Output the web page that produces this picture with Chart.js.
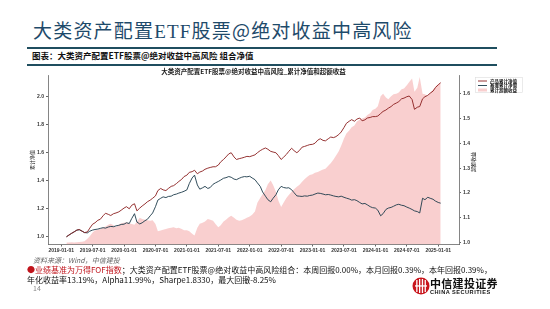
<!DOCTYPE html>
<html>
<head>
<meta charset="utf-8">
<script src="https://cdn.jsdelivr.net/npm/chart.js@4.4.0/dist/chart.umd.min.js"></script>
<style>
body { margin:0; width:550px; height:309px; overflow:hidden; background:#fff; position:relative; font-family:"Noto Sans CJK SC", sans-serif; }
.abs { position:absolute; white-space:nowrap; }
.rule { position:absolute; left:27px; width:470px; height:2px; background:#1f4e5f; }
#title { left:33px; top:18px; font-size:19px; line-height:24px; color:#1e4a6a; letter-spacing:1.2px; }
#title .en { font-family:"Liberation Serif", serif; }
#sub { left:32px; top:49px; font-size:8.5px; line-height:12px; font-weight:bold; color:#111; }
#wrap { position:absolute; left:0; top:60px; width:550px; height:200px; }
#src { left:33px; top:255px; font-size:7px; line-height:10px; color:#666; font-style:italic; }
#note1 { left:27px; top:265px; font-size:8px; line-height:10px; color:#111; }
#note2 { left:27px; top:275px; font-size:8px; line-height:10px; color:#111; }
#note1 .red { color:#c0141c; }
#page { left:33px; top:283px; font-size:7px; line-height:10px; color:#888; }
#logo { left:412px; top:277px; }
#brand { left:430px; top:277px; font-size:11px; line-height:13px; font-weight:bold; color:#111; letter-spacing:0.3px; }
#brand2 { left:430px; top:289px; font-size:5.6px; line-height:7px; font-weight:bold; color:#111; letter-spacing:0.5px; font-family:"Liberation Sans", sans-serif; }
</style>
</head>
<body>
<div id="title" class="abs">大类资产配置<span class="en">ETF</span>股票@绝对收益中高风险</div>
<div class="rule" style="top:47px"></div>
<div id="sub" class="abs">图表：大类资产配置ETF股票@绝对收益中高风险 组合净值</div>
<div class="rule" style="top:64px"></div>
<div id="wrap"><canvas id="navChart" width="550" height="200"></canvas></div>
<div id="src" class="abs">资料来源：Wind，中信建投</div>
<div id="note1" class="abs"><span class="red">●业绩基准为万得FOF指数</span>；大类资产配置ETF股票@绝对收益中高风险组合：本周回报0.00%，本月回报0.39%，本年回报0.39%，</div>
<div id="note2" class="abs">年化收益率13.19%，Alpha11.99%，Sharpe1.8330，最大回撤-8.25%</div>
<div id="page" class="abs">14</div>
<svg id="logo" class="abs" width="18" height="18" viewBox="0 0 18 18">
  <circle cx="9" cy="9" r="8.5" fill="#c8161d"/>
  <rect x="4.2" y="3" width="1.3" height="12" fill="#fff"/>
  <rect x="7" y="2" width="1.3" height="14" fill="#fff"/>
  <rect x="9.8" y="2" width="1.3" height="14" fill="#fff"/>
  <rect x="12.6" y="3" width="1.3" height="12" fill="#fff"/>
  <rect x="3" y="8.3" width="12" height="1.3" fill="#fff"/>
</svg>
<div id="brand" class="abs">中信建投证券</div>
<div id="brand2" class="abs">CHINA SECURITIES</div>

<script>
// 图表文字
var chartTitle = '大类资产配置ETF股票@绝对收益中高风险_累计净值和超额收益';
var seriesNames = ['产品累计净值', '基准累计净值', '累计超额收益'];
var leftAxisName = '累计净值';
var rightAxisName = '超额收益';

// 横轴刻度
var tickDates = ['2019-01-01','2019-07-01','2020-01-01','2020-07-01','2021-01-01','2021-07-01','2022-01-01',
  '2022-07-01','2023-01-01','2023-07-01','2024-01-01','2024-07-01','2025-01-01'];
var leftTicks = [1.0, 1.2, 1.4, 1.6, 1.8, 2.0];
var rightTicks = [1.0, 1.1, 1.2, 1.3, 1.4, 1.5, 1.6];

// 日期（半月）
var navDates = [
  '2019-02-01','2019-02-15','2019-03-01','2019-03-15','2019-04-01','2019-04-15','2019-05-01','2019-05-15','2019-06-01','2019-06-15','2019-07-01','2019-07-15',
  '2019-08-01','2019-08-15','2019-09-01','2019-09-15','2019-10-01','2019-10-15','2019-11-01','2019-11-15','2019-12-01','2019-12-15',
  '2020-01-01','2020-01-15','2020-02-01','2020-02-15','2020-03-01','2020-03-15','2020-04-01','2020-04-15','2020-05-01','2020-05-15','2020-06-01','2020-06-15',
  '2020-07-01','2020-07-15','2020-08-01','2020-08-15','2020-09-01','2020-09-15','2020-10-01','2020-10-15','2020-11-01','2020-11-15','2020-12-01','2020-12-15',
  '2021-01-01','2021-01-15','2021-02-01','2021-02-15','2021-03-01','2021-03-15','2021-04-01','2021-04-15','2021-05-01','2021-05-15','2021-06-01','2021-06-15',
  '2021-07-01','2021-07-15','2021-08-01','2021-08-15','2021-09-01','2021-09-15','2021-10-01','2021-10-15','2021-11-01','2021-11-15','2021-12-01','2021-12-15',
  '2022-01-01','2022-01-15','2022-02-01','2022-02-15','2022-03-01','2022-03-15','2022-04-01','2022-04-15','2022-05-01','2022-05-15','2022-06-01','2022-06-15',
  '2022-07-01','2022-07-15','2022-08-01','2022-08-15','2022-09-01','2022-09-15','2022-10-01','2022-10-15','2022-11-01','2022-11-15','2022-12-01','2022-12-15',
  '2023-01-01','2023-01-15','2023-02-01','2023-02-15','2023-03-01','2023-03-15','2023-04-01','2023-04-15','2023-05-01','2023-05-15','2023-06-01','2023-06-15',
  '2023-07-01','2023-07-15','2023-08-01','2023-08-15','2023-09-01','2023-09-15','2023-10-01','2023-10-15','2023-11-01','2023-11-15','2023-12-01','2023-12-15',
  '2024-01-01','2024-01-15','2024-02-01','2024-02-15','2024-03-01','2024-03-15','2024-04-01','2024-04-15','2024-05-01','2024-05-15','2024-06-01','2024-06-15',
  '2024-07-01','2024-07-15','2024-08-01','2024-08-15','2024-09-01','2024-09-15','2024-10-01','2024-10-15','2024-11-01','2024-11-15','2024-12-01','2024-12-15',
  '2025-01-01','2025-01-15'
];

// 产品累计净值
var productNav = [
  1.000,1.012,1.025,1.035,1.048,1.052,1.040,1.030,1.035,1.062,1.090,1.100,1.118,1.125,1.150,1.168,1.160,1.152,1.165,1.170,1.178,1.190,
  1.205,1.215,1.200,1.225,1.236,1.185,1.205,1.220,1.235,1.250,1.262,1.275,1.292,1.330,1.345,1.335,1.330,1.345,1.360,1.365,1.380,1.395,1.410,1.430,
  1.440,1.460,1.465,1.475,1.450,1.462,1.470,1.482,1.490,1.495,1.500,1.500,1.512,1.535,1.552,1.570,1.592,1.600,1.570,1.552,1.558,1.562,1.568,1.574,
  1.572,1.578,1.585,1.600,1.615,1.625,1.634,1.625,1.610,1.605,1.600,1.580,1.552,1.568,1.588,1.610,1.632,1.615,1.600,1.615,1.640,1.645,1.652,1.658,
  1.660,1.668,1.690,1.700,1.688,1.685,1.700,1.712,1.708,1.715,1.730,1.748,1.780,1.810,1.825,1.836,1.825,1.840,1.848,1.828,1.835,1.848,1.852,1.858,
  1.858,1.862,1.880,1.895,1.905,1.918,1.930,1.945,1.955,1.965,1.985,1.990,2.000,2.005,1.980,1.910,1.925,1.930,1.985,2.000,2.010,2.025,2.040,2.065,
  2.085,2.100
];

// 基准累计净值
var benchNav = [
  1.000,1.012,1.025,1.035,1.048,1.050,1.040,1.030,1.028,1.040,1.048,1.052,1.055,1.060,1.065,1.062,1.070,1.074,1.072,1.078,1.082,1.088,
  1.090,1.100,1.095,1.130,1.165,1.105,1.092,1.100,1.115,1.125,1.150,1.170,1.215,1.262,1.275,1.285,1.280,1.288,1.290,1.300,1.305,1.312,1.318,1.325,
  1.335,1.380,1.420,1.440,1.370,1.340,1.350,1.360,1.345,1.352,1.375,1.385,1.395,1.405,1.418,1.422,1.430,1.425,1.412,1.408,1.418,1.425,1.430,1.428,
  1.432,1.420,1.408,1.385,1.360,1.320,1.290,1.265,1.250,1.275,1.300,1.335,1.360,1.352,1.348,1.350,1.336,1.315,1.292,1.290,1.288,1.292,1.290,1.295,
  1.298,1.305,1.312,1.310,1.305,1.300,1.302,1.298,1.292,1.288,1.285,1.290,1.282,1.276,1.270,1.262,1.265,1.258,1.245,1.235,1.238,1.228,1.215,1.208,
  1.205,1.190,1.150,1.165,1.195,1.205,1.210,1.218,1.228,1.232,1.225,1.222,1.212,1.205,1.195,1.185,1.180,1.170,1.275,1.265,1.282,1.275,1.268,1.255,
  1.245,1.240
];

// 累计超额收益（右轴）
var excessRet = [
  1.000,1.000,1.001,1.000,1.001,1.002,1.003,1.005,1.015,1.025,1.040,1.048,1.052,1.055,1.060,1.065,1.072,1.076,1.070,1.063,1.072,1.078,
  1.080,1.082,1.078,1.075,1.072,1.085,1.100,1.095,1.092,1.090,1.088,1.090,1.075,1.045,1.048,1.052,1.055,1.058,1.060,1.062,1.058,1.060,1.055,1.050,
  1.050,1.045,1.035,1.028,1.060,1.076,1.080,1.085,1.095,1.092,1.088,1.075,1.062,1.070,1.085,1.092,1.102,1.108,1.100,1.092,1.088,1.090,1.095,1.100,
  1.105,1.112,1.125,1.160,1.180,1.195,1.212,1.235,1.250,1.232,1.205,1.170,1.143,1.160,1.180,1.192,1.205,1.215,1.225,1.232,1.245,1.255,1.265,1.272,
  1.275,1.282,1.285,1.290,1.295,1.298,1.310,1.320,1.335,1.350,1.368,1.390,1.420,1.440,1.452,1.465,1.472,1.488,1.495,1.500,1.505,1.515,1.522,1.535,
  1.540,1.550,1.590,1.600,1.585,1.578,1.590,1.598,1.600,1.605,1.618,1.622,1.635,1.648,1.662,1.608,1.625,1.668,1.600,1.598,1.590,1.605,1.615,1.630,
  1.640,1.645
];

// 日期转成小数年份
function toYear(s) {
    var p = s.split('-');
    return Number(p[0]) + (Number(p[1]) - 1) / 12 + (Number(p[2]) - 1) / 365;
}

function toPoints(values) {
    var pts = [];
    for (var i = 0; i < values.length; i++) {
        pts.push({ x: toYear(navDates[i]), y: values[i] });
    }
    return pts;
}

var colors = ['#8a1d1d', '#1c3a4a', 'rgba(244,160,160,0.5)'];
var tickFont = { family: 'Liberation Sans', size: 5, weight: 'bold' };

// 标题、轴名和图例自己画
var decorPlugin = {
    id: 'decor',
    afterDraw: function (chart) {
        var ctx = chart.ctx, area = chart.chartArea;
        ctx.save();
        ctx.fillStyle = '#1a1a1a';
        ctx.textAlign = 'center';
        ctx.textBaseline = 'middle';
        ctx.font = 'bold 6.5px "Noto Sans CJK SC"';
        ctx.fillText(chartTitle, (area.left + area.right) / 2, 11.5);

        ctx.font = '5px "Noto Sans CJK SC"';
        ctx.save();
        ctx.translate(32, 100);
        ctx.rotate(-Math.PI / 2);
        ctx.fillText(leftAxisName, 0, 0);
        ctx.restore();
        ctx.save();
        ctx.translate(473, 102);
        ctx.rotate(-Math.PI / 2);
        ctx.fillText(rightAxisName, 0, 0);
        ctx.restore();

        // 图例
        ctx.strokeStyle = '#dddddd';
        ctx.lineWidth = 0.6;
        ctx.strokeRect(475.5, 17.5, 47, 15);
        ctx.textAlign = 'left';
        ctx.font = 'bold 4.5px "Noto Sans CJK SC"';
        var ds = chart.data.datasets;
        for (var i = 0; i < ds.length; i++) {
            var yy = 21 + i * 4.5;
            if (i < 2) {
                ctx.strokeStyle = ds[i].borderColor;
                ctx.lineWidth = 0.9;
                ctx.beginPath();
                ctx.moveTo(478, yy);
                ctx.lineTo(487, yy);
                ctx.stroke();
            } else {
                ctx.fillStyle = ds[i].backgroundColor;
                ctx.fillRect(478, yy - 1.5, 9, 3);
            }
            ctx.fillStyle = '#1a1a1a';
            ctx.fillText(ds[i].label, 490, yy);
        }
        ctx.restore();
    }
};

var ctx = document.getElementById('navChart');
var navChart = new Chart(ctx, {
    type: 'line',
    data: {
        datasets: [
            { label: seriesNames[0], data: toPoints(productNav), yAxisID: 'y', borderColor: colors[0], borderWidth: 0.9, pointRadius: 0, fill: false, order: 1 },
            { label: seriesNames[1], data: toPoints(benchNav), yAxisID: 'y', borderColor: colors[1], borderWidth: 0.9, pointRadius: 0, fill: false, order: 2 },
            { label: seriesNames[2], data: toPoints(excessRet), yAxisID: 'y1', borderColor: 'rgba(0,0,0,0)', borderWidth: 0, backgroundColor: colors[2], pointRadius: 0, fill: 'start', order: 3 }
        ]
    },
    options: {
        responsive: false,
        animation: false,
        layout: { padding: { top: 15, left: 0, right: 0, bottom: 0 } },
        plugins: { legend: { display: false }, tooltip: { enabled: false } },
        scales: {
            x: {
                type: 'linear', min: 2018.79, max: 2025.33,
                afterBuildTicks: function (s) { s.ticks = tickDates.map(function (d) { return { value: toYear(d) }; }); },
                afterFit: function (s) { s.height = 15.5; },
                ticks: {
                    font: tickFont, color: '#333', padding: 1, maxRotation: 0, autoSkip: false,
                    callback: function (v, i) { return tickDates[i]; }
                },
                grid: { drawOnChartArea: false, tickLength: 2, color: '#666' },
                border: { color: '#666', width: 0.8 }
            },
            y: {
                position: 'left', min: 0.945, max: 2.155,
                afterBuildTicks: function (s) { s.ticks = leftTicks.map(function (v) { return { value: v }; }); },
                afterFit: function (s) { s.width = 48; },
                ticks: { font: tickFont, color: '#333', padding: 2, callback: function (v) { return v.toFixed(1); } },
                grid: { drawOnChartArea: false, tickLength: 2, color: '#666' },
                border: { color: '#666', width: 0.8 }
            },
            y1: {
                position: 'right', min: 0.992, max: 1.676,
                afterBuildTicks: function (s) { s.ticks = rightTicks.map(function (v) { return { value: v }; }); },
                afterFit: function (s) { s.width = 91; },
                ticks: { font: tickFont, color: '#333', padding: 2, callback: function (v) { return v.toFixed(1); } },
                grid: { drawOnChartArea: false, tickLength: 2, color: '#666' },
                border: { color: '#666', width: 0.8 }
            }
        }
    },
    plugins: [decorPlugin]
});
</script>
</body>
</html>
